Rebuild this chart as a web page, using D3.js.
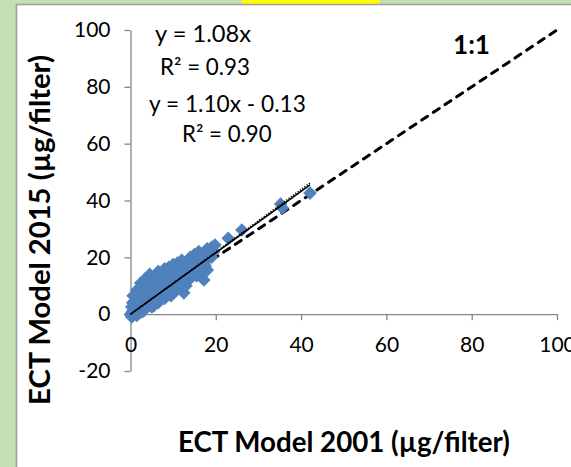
<!DOCTYPE html>
<html>
<head>
<meta charset="utf-8">
<script src="https://cdn.jsdelivr.net/npm/d3@7"></script>
<style>
  html, body { margin: 0; padding: 0; background: #c6deb4; }
  svg { display: block; }
  text { font-family: Lato, "Noto Sans", sans-serif; fill: #000; }
</style>
</head>
<body>
<svg id="chart" width="571" height="467"></svg>
<script>
// ECT Model 2001 (x) vs ECT Model 2015 (y), µg per filter
const xValues = [
  0, 0.2, 0.5, 0.3, 0.8, 1, 1.2, 0.5, 1.5, 1.8, 2, 2.2, 1.5, 2.5, 3, 3, 2.8, 3.5, 3.5, 4,
  4, 4.5, 5, 5, 5.5, 5.5, 6, 6, 6.5, 6.5, 7, 7, 7.5, 8, 8, 8, 8.5, 9, 9, 9.5,
  10, 10, 10.5, 11, 11, 11.5, 12, 12, 12.5, 13, 13, 13.5, 14, 14, 14.5, 15, 15, 15.5, 16, 16,
  16.5, 17, 17, 17.5, 18, 18, 18.5, 19, 19, 19.5, 19.8,
  1, 2, 3, 4, 5, 6, 7, 8, 9, 10, 11, 12, 13, 14, 15, 16, 17, 18,
  2, 3, 4, 5, 6, 7, 8, 9, 10, 11, 12, 13, 14, 15, 16, 17, 9.5, 1.2, 0.6, 2.4,
  4.5, 12.5, 17.2, 0.3,
  22.9, 26.1, 35.2, 35.6, 42.1
];
const yValues = [
  0, -0.5, 1, 2.5, 0.3, 2, 4, 4, 8.5, 1, 3, 6, -0.5, 0.8, 1, 4.5, 9, 12.5, 7, 3,
  10, 5.5, 2.5, 8, 13, 3, 6, 11, 15, 4, 8.5, 13, 5.5, 10, 16, 5.5, 12.5, 16.5, 7.5, 10,
  14, 17.5, 8, 12, 18, 9, 19, 15, 11, 17, 10, 13.5, 20, 12.5, 16, 21, 18, 13.5, 22, 15.5,
  19, 21.5, 14.5, 17, 23, 15.5, 20, 23.5, 20, 22, 24.3,
  1, 2, 3, 4.5, 5.5, 7, 7.5, 9, 10, 11, 12.5, 13, 14, 15, 16.5, 17.5, 19, 20,
  5, 7, 8, 10, 9, 11, 13, 13, 13, 15, 17, 16, 18, 19, 20, 20, 6.5, 6, 6.5, 11,
  14, 7.5, 12, -1,
  26.7, 29.6, 38.8, 37.4, 42.6
];

// Fitted trend lines: through-origin and with intercept
const trendSlopes = [1.08, 1.10];
const trendIntercepts = [0, -0.13];
const trendDashes = [null, "1.2,1.6"];

const fitLabels = [
  ["y = 1.08x", "R² = 0.93"],
  ["y = 1.10x - 0.13", "R² = 0.90"]
];

const xTicks = [0, 20, 40, 60, 80, 100];
const yTicks = [-20, 0, 20, 40, 60, 80, 100];
const xTitle = "ECT Model 2001 (µg/filter)";
const yTitle = "ECT Model 2015  (µg/filter)";
const identityLabel = "1:1";

const svg = d3.select("#chart");
const W = 571, H = 467;

// scale a text's font so its rendered width equals a target width
function fitWidth(sel, target) {
  const w = sel.node().getBBox().width;
  const fs = +sel.attr("font-size");
  if (w > 0) sel.attr("font-size", (fs * target / w).toFixed(2));
  return sel;
}

// page background and white chart panel
svg.append("rect").attr("width", W).attr("height", H).attr("fill", "#c6deb4");
svg.append("rect").attr("x", 242).attr("y", 0).attr("width", 138).attr("height", 4).attr("fill", "#ffff00");
svg.append("rect")
  .attr("x", 16.5).attr("y", 4.5).attr("width", W).attr("height", H)
  .attr("fill", "#fff").attr("stroke", "#a0a0a0").attr("stroke-width", 1.6);

const x = d3.scaleLinear().domain([0, 100]).range([130.5, 557]);
const y = d3.scaleLinear().domain([-20, 100]).range([371, 30]);

const tickFont = 21;
const plainNumber = d => String(d);

// axes
const yAxis = svg.append("g")
  .attr("transform", `translate(${x(0)},0)`)
  .call(d3.axisLeft(y).tickValues(yTicks).tickSize(6).tickSizeOuter(0).tickPadding(14).tickFormat(plainNumber));
const xAxis = svg.append("g")
  .attr("transform", `translate(0,${y(0)})`)
  .call(d3.axisBottom(x).tickValues(xTicks).tickSize(6).tickSizeOuter(0).tickPadding(17).tickFormat(plainNumber));

[xAxis, yAxis].forEach(g => {
  g.select(".domain").attr("stroke", "#868686").attr("stroke-width", 1.3);
  g.selectAll(".tick line").attr("stroke", "#868686").attr("stroke-width", 1.3);
  g.selectAll(".tick text")
    .attr("font-family", "Lato, 'Noto Sans', sans-serif")
    .attr("font-size", tickFont).attr("fill", "#000");
});

// 1:1 reference line
svg.append("line")
  .attr("x1", x(0)).attr("y1", y(0)).attr("x2", x(100)).attr("y2", y(100))
  .attr("stroke", "#000").attr("stroke-width", 3)
  .attr("stroke-dasharray", "7,7").attr("stroke-linecap", "round");

// scatter points as diamonds
const diamond = d3.symbol().type(d3.symbolSquare).size(92);
svg.append("g").selectAll("path")
  .data(xValues.map((v, i) => [v, yValues[i]]))
  .join("path")
  .attr("d", diamond)
  .attr("transform", d => `translate(${x(d[0])},${y(d[1])}) rotate(45)`)
  .attr("fill", "#4f81bd");

// trend lines over the range of the data
const [xMin, xMax] = d3.extent(xValues);
trendSlopes.forEach((m, i) => {
  const b = trendIntercepts[i];
  const x0 = Math.max(0, xMin);
  svg.append("line")
    .attr("x1", x(x0)).attr("y1", y(m * x0 + b))
    .attr("x2", x(xMax)).attr("y2", y(m * xMax + b))
    .attr("stroke", "#000").attr("stroke-width", 1.6)
    .attr("stroke-dasharray", trendDashes[i]);
});

// fit equations: [left, baseline, width]
const labelBoxes = [
  [[155, 42, 96], [160, 75, 90]],
  [[149, 112, 157], [182, 142, 90]]
];
fitLabels.forEach((pair, i) => {
  pair.forEach((t, j) => {
    const [lx, ly, lw] = labelBoxes[i][j];
    const el = svg.append("text")
      .attr("x", lx).attr("y", ly)
      .attr("font-size", 22)
      .text(t);
    fitWidth(el, lw);
  });
});

fitWidth(svg.append("text")
  .attr("x", 453).attr("y", 54)
  .attr("font-size", 22).attr("font-weight", "bold")
  .text(identityLabel), 37);

// axis titles
fitWidth(svg.append("text")
  .attr("x", 344).attr("y", 452)
  .attr("text-anchor", "middle")
  .attr("font-size", 24).attr("font-weight", "bold")
  .text(xTitle), 332);

fitWidth(svg.append("text")
  .attr("transform", "translate(50,230) rotate(-90)")
  .attr("text-anchor", "middle")
  .attr("font-size", 24).attr("font-weight", "bold")
  .text(yTitle), 350);
</script>
</body>
</html>
